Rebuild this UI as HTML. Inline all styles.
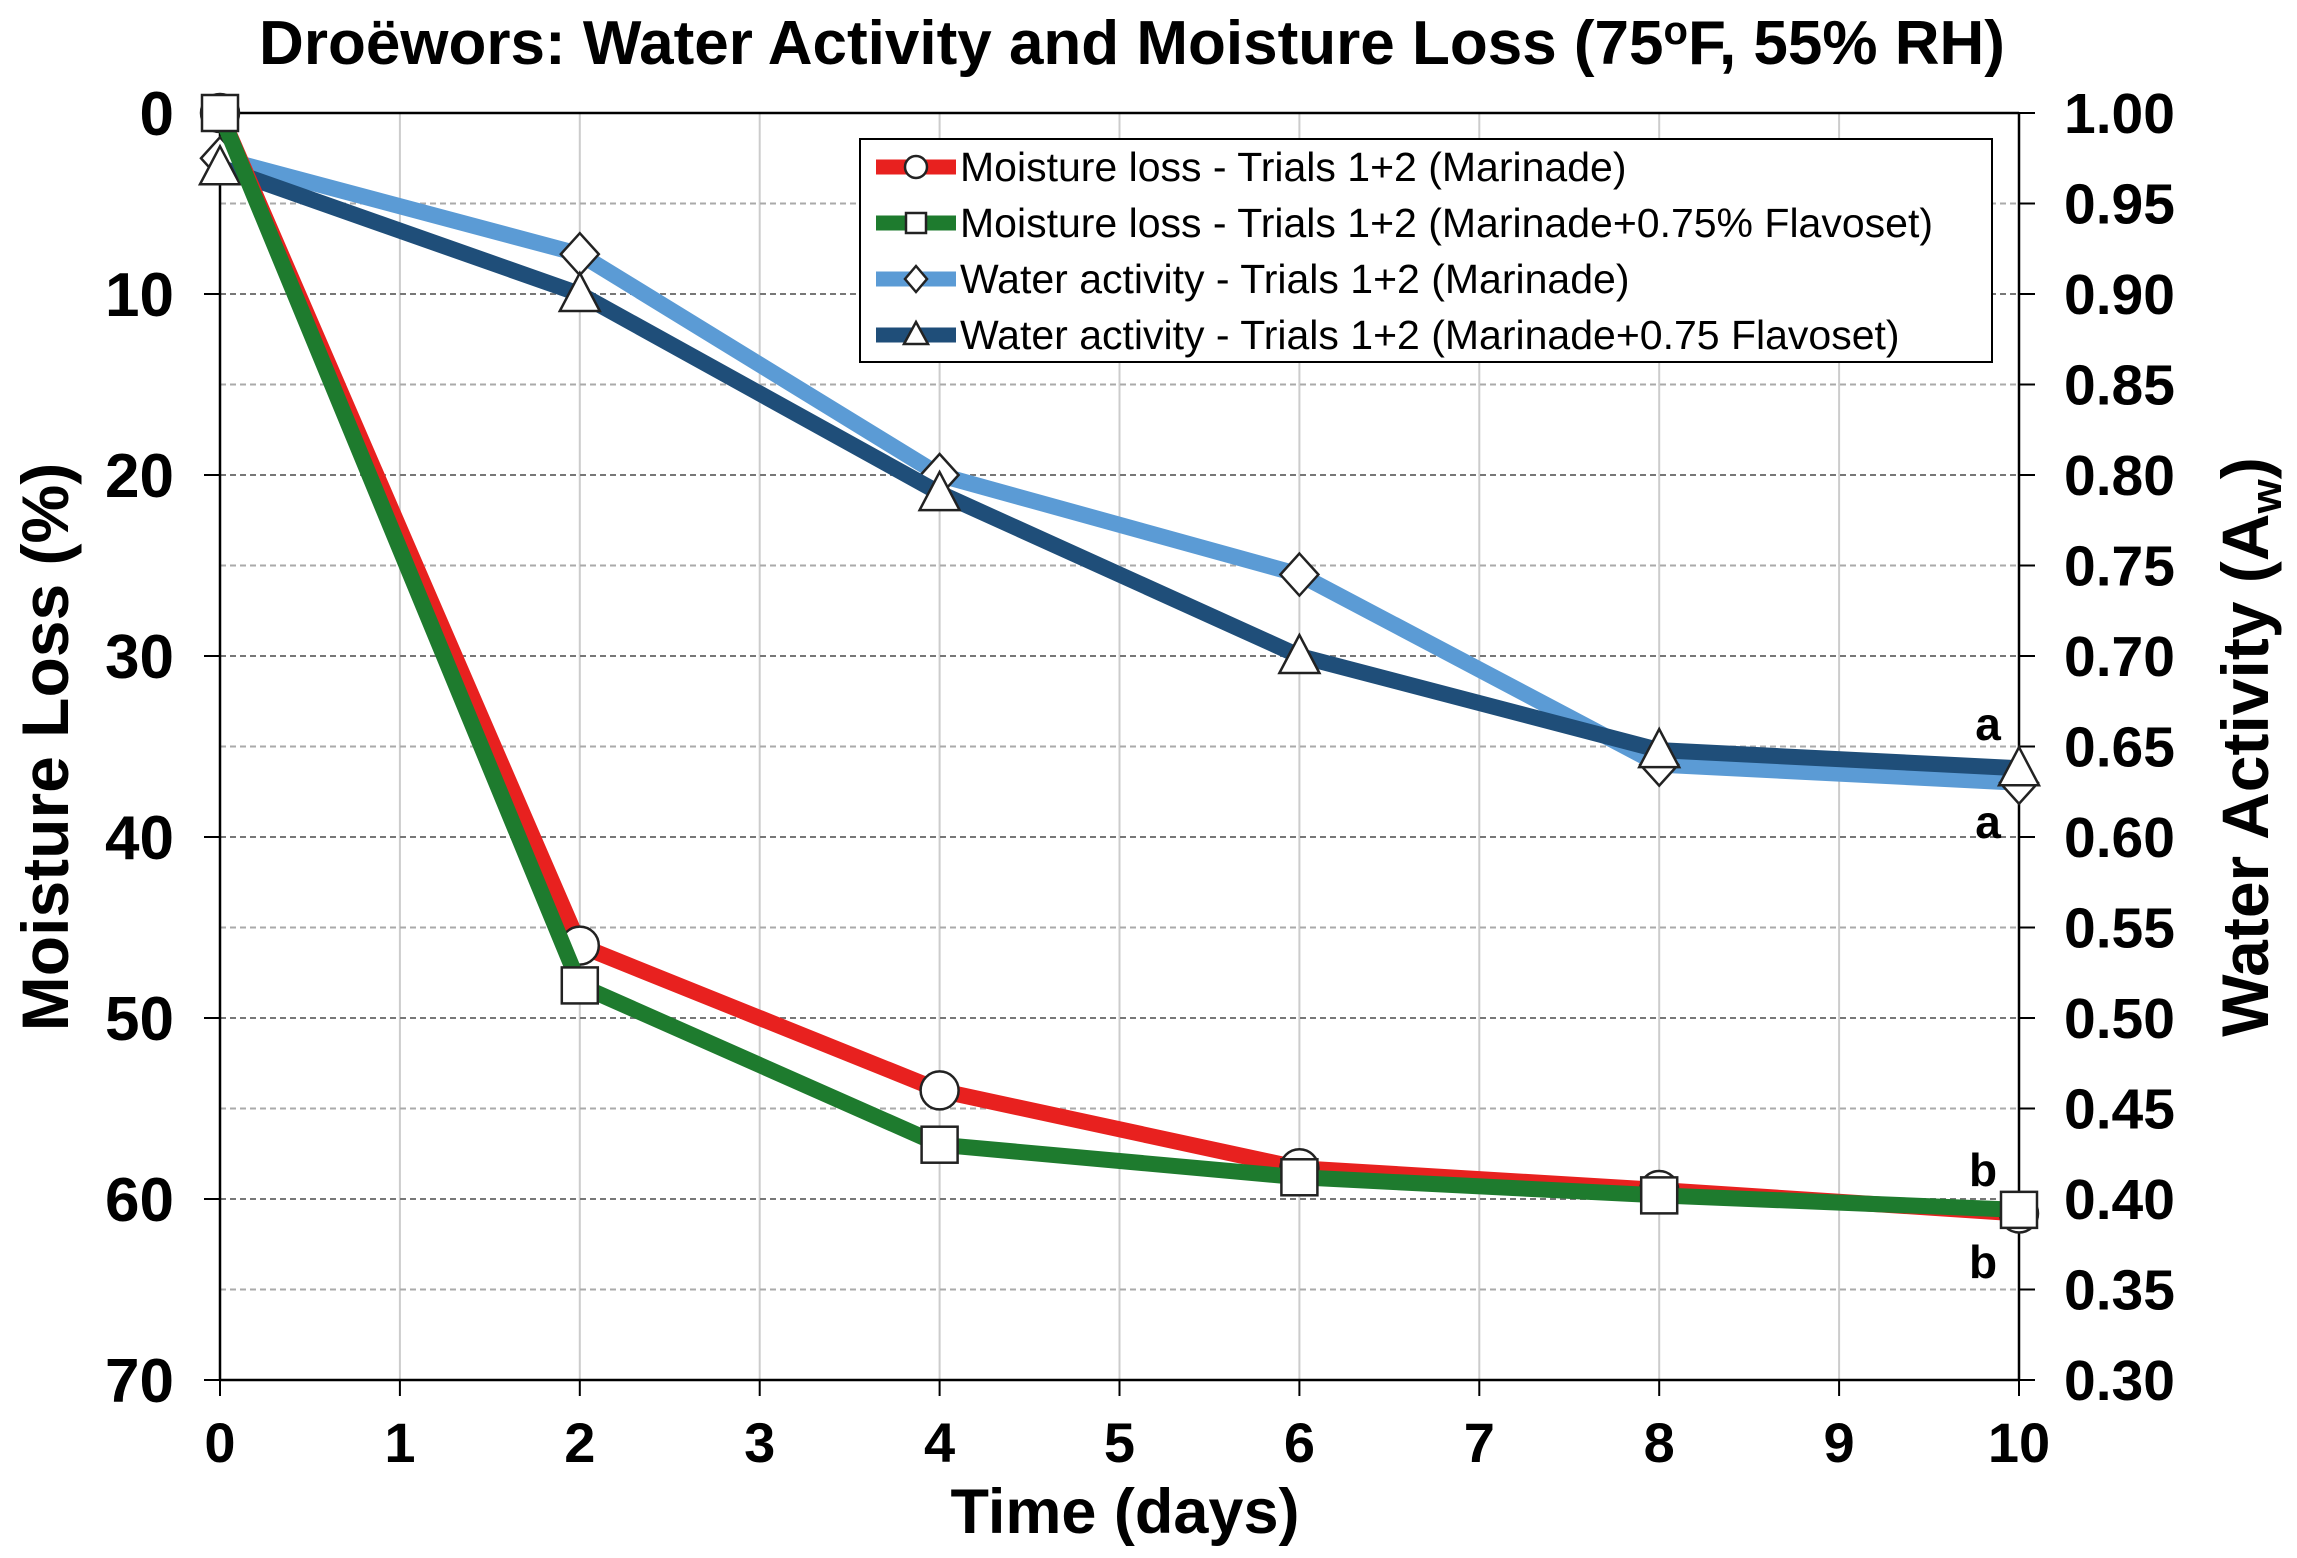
<!DOCTYPE html>
<html><head><meta charset="utf-8"><style>
html,body{margin:0;padding:0;background:#fff;}
svg{display:block;font-family:"Liberation Sans",Arial,sans-serif;font-weight:bold;}
</style></head><body>
<svg id="chart" width="2297" height="1558" viewBox="0 0 2297 1558" xmlns="http://www.w3.org/2000/svg">
<text x="1132" y="64" font-size="62" text-anchor="middle">Droëwors: Water Activity and Moisture Loss (75<tspan font-size="40" dy="-20">o</tspan><tspan dy="20">F, 55% RH)</tspan></text>
<g id="grid"></g>
<g id="axes"></g>
<g id="series"></g>
<g id="legend"></g>
<text x="1125" y="1533" font-size="63" text-anchor="middle">Time (days)</text>
<text transform="translate(68,747) rotate(-90)" font-size="66" text-anchor="middle">Moisture Loss (%)</text>
<text transform="translate(2268,747) rotate(-90)" font-size="66" text-anchor="middle">Water Activity (A<tspan font-size="44" dy="13">w</tspan><tspan dy="-13">)</tspan></text>
<text x="1988" y="740" font-size="46" text-anchor="middle">a</text>
<text x="1988" y="838" font-size="46" text-anchor="middle">a</text>
<text x="1983" y="1186" font-size="46" text-anchor="middle">b</text>
<text x="1983" y="1278" font-size="46" text-anchor="middle">b</text>
</svg>
<script>
const days = [0, 2, 4, 6, 8, 10];
const lossMarinade = [0, 46, 54, 58.3, 59.5, 60.8];
const lossFlavoset = [0, 48.2, 57, 58.8, 59.8, 60.6];
const awMarinade = [0.975, 0.922, 0.80, 0.745, 0.64, 0.63];
const awFlavoset = [0.97, 0.90, 0.79, 0.70, 0.648, 0.638];
const xTicks = [0,1,2,3,4,5,6,7,8,9,10];
const leftTicks = [0,10,20,30,40,50,60,70];
const rightTicks = ["1.00","0.95","0.90","0.85","0.80","0.75","0.70","0.65","0.60","0.55","0.50","0.45","0.40","0.35","0.30"];

const NS="http://www.w3.org/2000/svg";
const L=220,R=2019,T=113,B=1380;
const xs=d=>L+(R-L)*d/10;
const yL=v=>T+(B-T)*v/70;
const yR=a=>T+(B-T)*(1-a)/0.7;
function mk(tag,attrs,parent){const e=document.createElementNS(NS,tag);for(const k in attrs)e.setAttribute(k,attrs[k]);parent.appendChild(e);return e;}
const grid=document.getElementById('grid'),axes=document.getElementById('axes'),ser=document.getElementById('series'),leg=document.getElementById('legend');

xTicks.forEach(d=>{
  if(d>0&&d<10){const g=mk('line',{x1:xs(d),x2:xs(d),y1:T,y2:B,stroke:'#ccc','stroke-width':2},grid);
  
  }
  mk('line',{x1:xs(d),x2:xs(d),y1:B,y2:B+16,stroke:'#000','stroke-width':2},axes);
  const t=mk('text',{x:xs(d),y:1462,'font-size':56,'text-anchor':'middle'},axes);t.textContent=d;
  
  
});
for(let v=5;v<70;v+=5){
  const major=v%10===0;
  const g=mk('line',{x1:L,x2:R,y1:yL(v),y2:yL(v),stroke:major?'#777':'#aaa','stroke-width':2,'stroke-dasharray':'6,4'},grid);
  
  
}
leftTicks.forEach(v=>{
  mk('line',{x1:L-16,x2:L,y1:yL(v),y2:yL(v),stroke:'#000','stroke-width':2},axes);
  const t=mk('text',{x:174,y:yL(v)+22,'font-size':62,'text-anchor':'end'},axes);t.textContent=v;
  
  
});
rightTicks.forEach(s=>{
  const y=yR(parseFloat(s));
  mk('line',{x1:R,x2:R+16,y1:y,y2:y,stroke:'#000','stroke-width':2},axes);
  const t=mk('text',{x:2064,y:y+20,'font-size':57},axes);t.textContent=s;
  
  
});
mk('line',{x1:L,x2:L,y1:T,y2:B,stroke:'#000','stroke-width':2.5},axes);
mk('line',{x1:R,x2:R,y1:T,y2:B,stroke:'#000','stroke-width':2.5},axes);
mk('line',{x1:L,x2:R,y1:B,y2:B,stroke:'#000','stroke-width':2.5},axes);
mk('line',{x1:L,x2:R,y1:T,y2:T,stroke:'#000','stroke-width':2.5},axes);

function marker(type,x,y,parent,r){
  r=r||19;let e;
  if(type==='circle')e=mk('circle',{cx:x,cy:y,r:r},parent);
  else if(type==='square')e=mk('rect',{x:x-r+1,y:y-r+1,width:2*r-2,height:2*r-2},parent);
  else if(type==='diamond')e=mk('polygon',{points:`${x},${y-r-2} ${x+r},${y} ${x},${y+r+2} ${x-r},${y}`},parent);
  else e=mk('polygon',{points:`${x},${y-r-2} ${x+r+1},${y+r-2} ${x-r-1},${y+r-2}`},parent);
  e.setAttribute('fill','#fff');e.setAttribute('stroke','#222');e.setAttribute('stroke-width','2.5');
  return e;
}
function series(name,vals,yf,color,mtype){
  const g=mk('g',{},ser);
  
  
  const p=mk('polyline',{points:days.map((d,i)=>xs(d)+','+yf(vals[i])).join(' '),fill:'none',stroke:color,'stroke-width':16,'stroke-linejoin':'round'},g);
  
  
  days.forEach((d,i)=>{const m=marker(mtype,xs(d),yf(vals[i]),g);
    
    });
}
series('aw-marinade',awMarinade,yR,'#5b9bd5','diamond');
series('aw-flavoset',awFlavoset,yR,'#1f4e79','triangle');
series('loss-marinade',lossMarinade,yL,'#e8211f','circle');
series('loss-flavoset',lossFlavoset,yL,'#1e7b2e','square');

const legItems=[['Moisture loss - Trials 1+2 (Marinade)','#e8211f','circle'],['Moisture loss - Trials 1+2 (Marinade+0.75% Flavoset)','#1e7b2e','square'],['Water activity - Trials 1+2 (Marinade)','#5b9bd5','diamond'],['Water activity - Trials 1+2 (Marinade+0.75 Flavoset)','#1f4e79','triangle']];
mk('rect',{x:860,y:139,width:1132,height:223,fill:'#fff',stroke:'#000','stroke-width':2},leg);
legItems.forEach((it,i)=>{
  const y=167+i*56;
  const g=mk('g',{},leg);
  
  
  mk('line',{x1:876,x2:956,y1:y,y2:y,stroke:it[1],'stroke-width':15},g);
  marker(it[2],916,y,g,11);
  const t=mk('text',{x:960,y:y+14,'font-size':41,'font-weight':'normal'},g);t.textContent=it[0];
});
</script>
</body></html>
